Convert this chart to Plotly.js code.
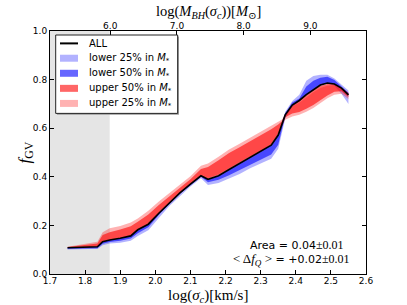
<!DOCTYPE html>
<html><head><meta charset="utf-8">
<script src="https://cdn.plot.ly/plotly-3.0.1.min.js"></script>
<style>body{margin:0;padding:0;background:#fff}</style>
</head><body><div id="chart" style="width:407px;height:305px"></div>
<script>
// log(sigma_c) grid
var logSigma = [1.75,1.78,1.81,1.835,1.85,1.87,1.90,1.93,1.95,1.98,2.01,2.04,2.07,2.10,2.13,2.15,2.18,2.21,2.24,2.27,2.30,2.33,2.35,2.36,2.37,2.39,2.41,2.43,2.45,2.47,2.49,2.51,2.53,2.55];
// ALL
var fAll   = [.108,.110,.111,.112,.133,.140,.147,.157,.182,.205,.250,.294,.334,.370,.404,.390,.404,.430,.455,.480,.502,.530,.572,.615,.655,.695,.714,.738,.758,.778,.786,.782,.765,.737];
// upper 50% in M*
var u50Lo  = [.108,.110,.111,.112,.133,.140,.147,.157,.182,.205,.250,.294,.334,.370,.404,.392,.406,.432,.457,.482,.504,.532,.575,.612,.645,.660,.667,.680,.695,.715,.735,.750,.752,.728];
var u50Hi  = [.111,.116,.122,.126,.160,.172,.183,.196,.215,.245,.284,.320,.355,.390,.432,.440,.468,.498,.522,.546,.572,.596,.615,.628,.655,.695,.714,.738,.758,.775,.782,.782,.768,.745];
// upper 25% in M*
var u25Lo  = [.108,.110,.111,.112,.133,.140,.147,.157,.182,.205,.250,.294,.334,.370,.404,.395,.410,.436,.460,.485,.507,.535,.578,.608,.635,.648,.655,.668,.683,.703,.723,.738,.742,.720];
var u25Hi  = [.112,.119,.128,.133,.172,.188,.198,.212,.228,.260,.298,.334,.368,.402,.445,.455,.482,.512,.536,.560,.585,.608,.625,.635,.655,.690,.705,.728,.748,.765,.775,.778,.765,.742];
// lower 50% in M*
var l50Lo  = [.104,.105,.106,.106,.124,.132,.137,.146,.168,.192,.243,.288,.330,.366,.400,.378,.388,.406,.425,.450,.470,.492,.532,.590,.650,.695,.714,.738,.758,.778,.786,.782,.765,.737];
var l50Hi  = [.108,.110,.111,.112,.133,.140,.147,.157,.182,.205,.250,.294,.334,.370,.404,.390,.404,.430,.455,.480,.502,.530,.572,.618,.662,.706,.722,.772,.795,.808,.812,.798,.772,.746];
// lower 25% in M*
var l25Lo  = [.101,.102,.103,.103,.118,.126,.129,.137,.156,.180,.230,.280,.322,.360,.394,.366,.374,.392,.412,.435,.455,.474,.515,.570,.640,.688,.710,.735,.755,.775,.783,.775,.742,.700];
var l25Hi  = [.108,.110,.111,.112,.133,.140,.147,.157,.182,.205,.250,.294,.334,.370,.404,.390,.404,.430,.455,.480,.502,.530,.572,.620,.668,.712,.738,.795,.815,.820,.820,.805,.780,.755];

var bhTicks = [6,7,8,9];
var bhTickText = ['6.0','7.0','8.0','9.0'];
var shadeEnd = 1.87;

var Ms = ' in <i>M</i><sub>*</sub>';
var legendNames = ['ALL','lower 25%'+Ms,'lower 50%'+Ms,'upper 50%'+Ms,'upper 25%'+Ms];
var colL25 = 'rgba(0,0,255,0.3)', colL50 = 'rgba(0,0,255,0.6)', colU50 = 'rgba(255,0,0,0.6)', colU25 = 'rgba(255,0,0,0.3)';
var legendColors = ['black', colL25, colL50, colU50, colU25];

function band(lo, hi, name, color){
  var xs = logSigma.concat(logSigma.slice().reverse());
  var ys = hi.concat(lo.slice().reverse());
  return {x: xs, y: ys, type:'scatter', mode:'lines', fill:'toself', fillcolor: color,
    line:{width:0, color: color}, name: name, showlegend:false, hoverinfo:'skip'};
}
var traces = [
  band(l25Lo, l25Hi, legendNames[1], colL25),
  band(l50Lo, l50Hi, legendNames[2], colL50),
  band(u25Lo, u25Hi, legendNames[4], colU25),
  band(u50Lo, u50Hi, legendNames[3], colU50),
  {x: logSigma, y: fAll, type:'scatter', mode:'lines', line:{color:'black', width:1.7}, name:'ALL', showlegend:false},
  // carrier for the top M_BH axis (no visible marks)
  {x: bhTicks, y: bhTicks.map(function(){return null;}), xaxis:'x2', yaxis:'y', type:'scatter', mode:'markers', showlegend:false, hoverinfo:'skip'}
];

// manual legend (matplotlib-style compact box)
var shapes = [{type:'rect', xref:'x', yref:'paper', x0:1.7, x1:shadeEnd, y0:0, y1:1, fillcolor:'#e5e5e5', line:{width:0}, layer:'below'}];
var annotations = [];
var lgX0 = 0.018, lgX1 = 0.404, lgY0 = 0.661, lgY1 = 0.9835;
shapes.push({type:'rect', xref:'paper', yref:'paper', x0:lgX0+0.004, x1:lgX1+0.004, y0:lgY0-0.006, y1:lgY1-0.006, fillcolor:'#999', line:{width:0}});
shapes.push({type:'rect', xref:'paper', yref:'paper', x0:lgX0, x1:lgX1, y0:lgY0, y1:lgY1, fillcolor:'white', line:{color:'#222', width:1}});
var rowY = [0.949, 0.888, 0.826, 0.764, 0.702];
var swX0 = 0.0316, swX1 = 0.0886;
for (var i = 0; i < legendNames.length; i++) {
  if (i === 0) {
    shapes.push({type:'line', xref:'paper', yref:'paper', x0:swX0, x1:swX1, y0:rowY[i], y1:rowY[i], line:{color:'black', width:2}});
  } else {
    shapes.push({type:'rect', xref:'paper', yref:'paper', x0:swX0, x1:swX1, y0:rowY[i]-0.0144, y1:rowY[i]+0.0144, fillcolor:legendColors[i], line:{width:0}});
  }
  annotations.push({xref:'paper', yref:'paper', x:0.118, y:rowY[i], xanchor:'left', yanchor:'middle', showarrow:false,
    text: legendNames[i], font:{size:10, family:'DejaVu Sans, sans-serif', color:'black'}});
}
var serif = 'Liberation Serif, DejaVu Serif, serif';
annotations.push({xref:'paper', yref:'paper', x:0.782, y:0.118, xanchor:'center', yanchor:'middle', showarrow:false,
  text:'Area = 0.04<span style="font-family:Liberation Serif;font-size:12px">±0.01</span>', font:{size:11}});
annotations.push({xref:'paper', yref:'paper', x:0.765, y:0.060, xanchor:'center', yanchor:'middle', showarrow:false,
  text:'<span style="font-family:Liberation Serif;font-size:13px">&lt; Δ<i>f</i><sub><i>Q</i></sub> &gt;</span> = +0.02<span style="font-family:Liberation Serif;font-size:12px">±0.01</span>', font:{size:11}});
// axis titles
annotations.push({xref:'paper', yref:'paper', x:0.5, y:-0.09, xanchor:'center', yanchor:'middle', showarrow:false,
  text:'log(<i>σ</i><sub><i>c</i></sub>)[km/s]', font:{family:serif, size:15}});
annotations.push({xref:'paper', yref:'paper', x:0.5, y:1.078, xanchor:'center', yanchor:'middle', showarrow:false,
  text:'log(<i>M</i><sub><i>BH</i></sub>(<i>σ</i><sub><i>c</i></sub>))[<i>M</i><sub>⊙</sub>]', font:{family:serif, size:14.5}});
annotations.push({xref:'paper', yref:'paper', x:-0.079, y:0.5, xanchor:'center', yanchor:'middle', showarrow:false, textangle:-90,
  text:'<i>f</i><sub>GV</sub>', font:{family:serif, size:17}});

var layout = {
  width:407, height:305,
  margin:{l:50, r:41, t:31, b:31, pad:0},
  paper_bgcolor:'white', plot_bgcolor:'white',
  font:{family:'DejaVu Sans, sans-serif', size:9, color:'black'},
  showlegend:false,
  xaxis:{range:[1.7,2.6], dtick:0.1, tick0:1.7, tickformat:'.1f', ticks:'inside', ticklen:4, tickcolor:'black',
    showline:true, linecolor:'black', linewidth:1, mirror:false, showgrid:false, zeroline:false, automargin:false, ticklabelstandoff:-2},
  xaxis2:{overlaying:'x', side:'top', range:[5.096,9.835], tickvals:bhTicks, ticktext:bhTickText, ticks:'inside', ticklen:4,
    tickcolor:'black', showline:true, linecolor:'black', linewidth:1, showgrid:false, zeroline:false, automargin:false, ticklabelstandoff:-3},
  yaxis:{range:[0,1], dtick:0.2, tickformat:'.1f', ticks:'inside', ticklen:4, tickcolor:'black',
    showline:true, linecolor:'black', linewidth:1, mirror:'ticks', showgrid:false, zeroline:false, automargin:false},
  shapes: shapes,
  annotations: annotations
};
Plotly.newPlot('chart', traces, layout, {displayModeBar:false, staticPlot:true});
</script></body></html>
